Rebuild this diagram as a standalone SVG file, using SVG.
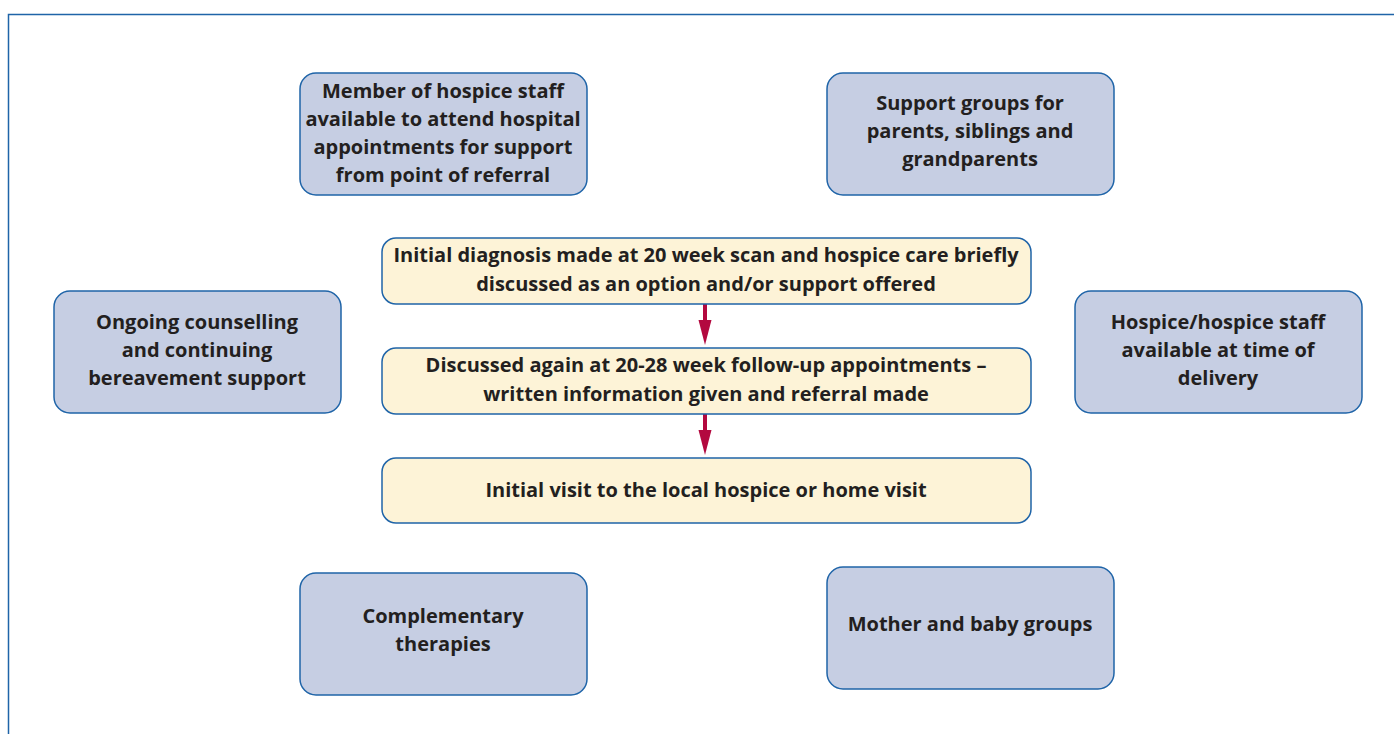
<svg xmlns="http://www.w3.org/2000/svg" width="1394" height="734" viewBox="0 0 1394 734">
  <style>
    .frame { fill: #ffffff; stroke: #1f64a8; stroke-width: 1.5; }
    .side { fill: #c6cee3; stroke: #1f64a8; stroke-width: 1.5; }
    .step { fill: #fdf3d7; stroke: #1f64a8; stroke-width: 1.5; }
    text { font-family: "Open Sans", "Liberation Sans", sans-serif; font-weight: bold; font-size: 20px; fill: #231f20; text-anchor: middle; }
    .link { stroke: #b3093f; stroke-width: 4; fill: none; }
    .head { fill: #b3093f; }
  </style>
  <defs>
    <!-- downward arrowhead, tip at (0,0) -->
    <path id="head" class="head" d="M-6.5,-25 L6.5,-25 L0,0 Z"/>
  </defs>

  <rect class="frame" x="8.5" y="14.5" width="1400" height="740"/>

  <g id="connectors">
    <line class="link" x1="705" y1="304" x2="705" y2="326"/>
    <use href="#head" x="705" y="345"/>
    <line class="link" x1="705" y1="414" x2="705" y2="436"/>
    <use href="#head" x="705" y="455"/>
  </g>

  <g id="hospital-support">
    <rect class="side" x="300" y="73" width="287" height="122" rx="16"/>
    <text x="443" y="98">Member of hospice staff</text>
    <text x="443" y="126">available to attend hospital</text>
    <text x="443" y="154">appointments for support</text>
    <text x="443" y="182">from point of referral</text>
  </g>

  <g id="support-groups">
    <rect class="side" x="827" y="73" width="287" height="122" rx="16"/>
    <text x="970" y="110">Support groups for</text>
    <text x="970" y="138">parents, siblings and</text>
    <text x="970" y="166">grandparents</text>
  </g>

  <g id="counselling">
    <rect class="side" x="54" y="291" width="287" height="122" rx="16"/>
    <text x="197" y="329">Ongoing counselling</text>
    <text x="197" y="357">and continuing</text>
    <text x="197" y="385">bereavement support</text>
  </g>

  <g id="delivery">
    <rect class="side" x="1075" y="291" width="287" height="122" rx="16"/>
    <text x="1218" y="329">Hospice/hospice staff</text>
    <text x="1218" y="357">available at time of</text>
    <text x="1218" y="385">delivery</text>
  </g>

  <g id="diagnosis">
    <rect class="step" x="382" y="238" width="649" height="66" rx="14"/>
    <text x="706" y="262">Initial diagnosis made at 20 week scan and hospice care briefly</text>
    <text x="706" y="291">discussed as an option and/or support offered</text>
  </g>

  <g id="follow-up">
    <rect class="step" x="382" y="348" width="649" height="66" rx="14"/>
    <text x="706" y="372">Discussed again at 20-28 week follow-up appointments –</text>
    <text x="706" y="401">written information given and referral made</text>
  </g>

  <g id="initial-visit">
    <rect class="step" x="382" y="458" width="649" height="65" rx="14"/>
    <text x="706" y="497">Initial visit to the local hospice or home visit</text>
  </g>

  <g id="therapies">
    <rect class="side" x="300" y="573" width="287" height="122" rx="16"/>
    <text x="443" y="623">Complementary</text>
    <text x="443" y="651">therapies</text>
  </g>

  <g id="mother-baby">
    <rect class="side" x="827" y="567" width="287" height="122" rx="16"/>
    <text x="970" y="631">Mother and baby groups</text>
  </g>
</svg>
